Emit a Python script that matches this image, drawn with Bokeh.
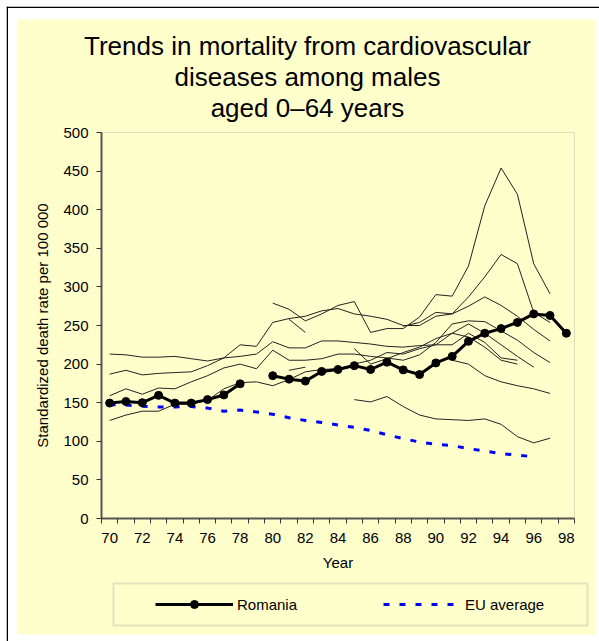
import numpy as np
from bokeh.plotting import figure
from bokeh.models import Range1d, FixedTicker, Label, BoxAnnotation, Legend, LegendItem
from bokeh.embed import file_html
from bokeh.resources import INLINE

years = list(range(70, 99))
x_tick_years = list(range(70, 99, 2))
y_ticks = list(range(0, 501, 50))

romania = [149.5, 151.5, 150, 159.5, 149.5, 149.5, 154, 160, 174.5, None,
           185, 180.5, 178, 190.5, 193, 198, 193, 202.5, 192.5, 186.5,
           201.5, 210, 229.5, 240, 246, 254, 265, 263, 240]
eu_average = [147.5, 147, 145.5, 144.5, 144.5, 145, 143, 139, 140.5, 138,
              135, 130.5, 127, 124.5, 121, 118, 114, 108.5, 103.5, 99,
              96, 94.5, 90.5, 87.5, 84, 82, 80, None, None]

country_a = [213, 212, 209, 209, 210, 207, 204, 208, 210, 213,
             229, 221, 221, 230, 230, 228, 226, 223, 222, 224,
             225, 225, 240, 228, 208, 205, None, None, None]
country_b = [187, 192, 186, 188, 189, 190, 198, 208, 225, 223,
             254, 259, 262, 269, 272, 265, 262, 258, 250, 250,
             262, 265, 275, 287, 276, 262, 245, 230, None]
country_c = [159, 168, 161, 169, 168, 177, 185, 195, 200, 194,
             218, 205, 205, 207, 213, 213, 210, 208, 205, 212,
             228, 252, 256, 255, 243, 231, 215, 202, None]
country_d = [127, 134, 139, 139, 148, 148, 153, 168, 176, 177,
             172, 180, 190, 193, 194, 200, 205, 215, 213, 220,
             225, 240, 235, 222, 205, 200, None, None, None]
country_e = [None] * 10 + [279, 271, 256, 265, 276, 281, 241, 246, 246, 261,
                           290, 288, 327, 405, 454, 420, 330, 291, None]
country_f = [None] * 11 + [258, 241] + [None] * 16
country_g = [None] * 18 + [249, 254, 267, 265, 287, 313, 342, 330, 267, 254, None]
country_h = [None] * 15 + [154, 151, 158, 145, 134, 129, 128, 127, 129, 122,
                           106, 98, 104, None]
country_i = [None] * 21 + [205, 200, 185, 177, 172, 168, 162, None]
country_j = [None] * 11 + [192, 196] + [None] * 16
country_k = [None] * 15 + [220, 200, 207, 215, 222, 233, 240, 252, 240, 225,
                           210, 196, None, None]

thin_series = [country_a, country_b, country_c, country_d, country_e,
               country_f, country_g, country_h, country_i, country_j, country_k]


def arr(vals):
    return np.array([np.nan if v is None else v for v in vals], dtype=float)


FONT = "Liberation Sans"
YELLOW = "#FFFFCC"

# canvas and plot-area geometry (pixels)
W, H = 593, 635
PX_L, PX_R, PY_T, PY_B = 95, 568, 126, 512
x0, x1 = years[0] - 0.5, years[-1] + 0.5
y0, y1 = y_ticks[0], y_ticks[-1]
kx = (x1 - x0) / (PX_R - PX_L)
ky = (y1 - y0) / (PY_B - PY_T)

p = figure(width=W, height=H,
           x_range=Range1d(x0 - PX_L * kx, x1 + (W - PX_R) * kx),
           y_range=Range1d(y0 - (H - PY_B) * ky, y1 + PY_T * ky),
           output_backend="svg", toolbar_location=None, title=None,
           min_border=0, min_border_left=0, min_border_right=0,
           min_border_top=0, min_border_bottom=0,
           background_fill_color=YELLOW, border_fill_color=YELLOW,
           outline_line_color=None,
           styles={"margin-left": "6px", "margin-top": "6px"})
p.xgrid.visible = False
p.ygrid.visible = False


def canvas_box(l, r, t, b, **kw):
    return BoxAnnotation(left=l, right=r, top=t, bottom=b,
                         left_units="canvas", right_units="canvas",
                         top_units="canvas", bottom_units="canvas", **kw)


# page frame: white margins and black edge lines
for l, r, t, b, c in [(0, 11, 0, H, "white"), (0, W, 0, 13, "white"),
                      (589, W, 0, H, "white"), (0, W, 628, H, "white"),
                      (0, 1.5, 0, H, "black"), (0, W, 0, 1.5, "black")]:
    p.add_layout(canvas_box(l, r, t, b, fill_color=c, fill_alpha=1,
                            line_color=None, level="underlay"))

# plot-area border (top / right grey lines)
p.add_layout(BoxAnnotation(left=x0, right=x1, bottom=y0, top=y1,
                           fill_alpha=0, line_color="#909090", line_width=1,
                           level="underlay"))

xs = arr(years)
for s in thin_series:
    p.line(xs, arr(s), line_color="#222222", line_width=1)

eu_r = p.line(xs, arr(eu_average), line_color="#0000FF", line_width=3, line_dash="6 10")
rom_l = p.line(xs, arr(romania), line_color="black", line_width=3)
rom_p = p.scatter(xs, arr(romania), size=8, marker="circle", fill_color="black", line_color="black")

# axes (drawn at fixed data positions)
p.xaxis.fixed_location = y0
p.xaxis.bounds = (x0, x1)
p.xaxis.ticker = FixedTicker(ticks=x_tick_years, minor_ticks=[y - 0.5 for y in years] + [x1])
p.xaxis.major_tick_line_color = None
p.xaxis.major_tick_out = 5
p.xaxis.major_tick_in = 0
p.xaxis.minor_tick_out = 5
p.xaxis.minor_tick_in = 0
p.xaxis.minor_tick_line_color = "#333333"
p.xaxis.major_label_standoff = 9
p.xaxis.axis_label = "Year"
p.xaxis.axis_label_standoff = 8

p.yaxis.fixed_location = x0
p.yaxis.bounds = (y0, y1)
p.yaxis.ticker = FixedTicker(ticks=y_ticks, minor_ticks=[])
p.yaxis.major_tick_out = 5
p.yaxis.major_tick_in = 0
p.yaxis.major_tick_line_color = "#333333"
p.yaxis.major_label_standoff = 8
p.yaxis.axis_label = "Standardized death rate per 100 000"
p.yaxis.axis_label_standoff = 9

for ax in (p.xaxis[0], p.yaxis[0]):
    ax.axis_line_color = "#555555"
    ax.axis_line_width = 2
    ax.major_label_text_font = FONT
    ax.major_label_text_font_size = "15px"
    ax.major_label_text_color = "black"
    ax.axis_label_text_font = FONT
    ax.axis_label_text_font_size = "15px"
    ax.axis_label_text_font_style = "normal"
    ax.axis_label_text_color = "black"

# title lines (screen units: from bottom-left of the canvas)
for txt, cy in [("Trends in mortality from cardiovascular", 39),
                ("diseases among males", 70),
                ("aged 0\u201364 years", 101)]:
    p.add_layout(Label(x=301, y=H - cy, x_units="screen", y_units="screen", text=txt,
                       text_align="center", text_baseline="middle",
                       text_font=FONT, text_font_size="26px", text_color="black"))

# legend frame + legend
p.add_layout(canvas_box(107, 581, 577, 619, fill_color=YELLOW, fill_alpha=1,
                        line_color="#A0A0A0", line_width=2))

leg = Legend(items=[LegendItem(label="Romania", renderers=[rom_l, rom_p]),
                    LegendItem(label="EU average", renderers=[eu_r])],
             location=(149, H - 608), orientation="horizontal", padding=0, margin=0,
             spacing=76, glyph_width=78, glyph_height=20, label_height=20,
             label_width=70, label_standoff=4, border_line_color=None,
             background_fill_alpha=0, label_text_font=FONT,
             label_text_font_size="15px", label_text_color="black")
p.add_layout(leg)

open("out.html", "w").write(file_html(p, INLINE))
